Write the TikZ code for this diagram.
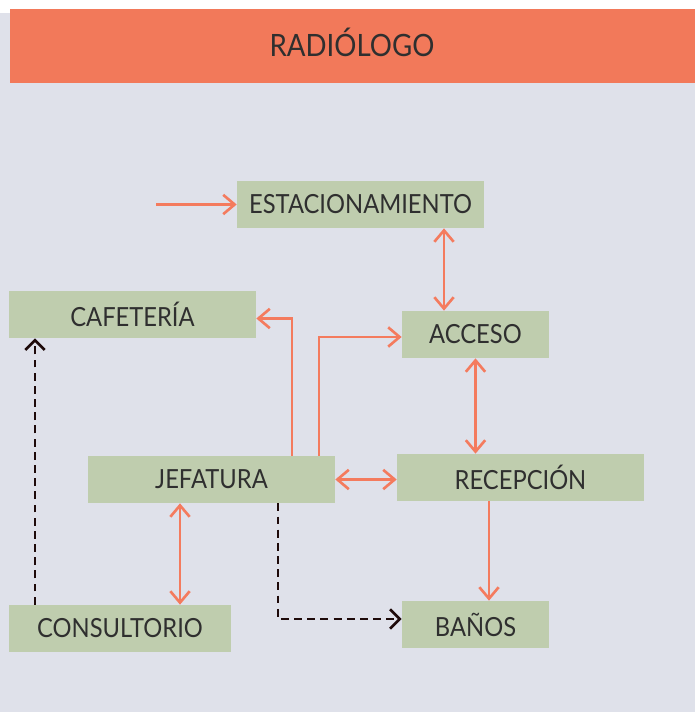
\documentclass[tikz,border=0pt]{standalone}
\usepackage{fontspec}
\setmainfont{Lato}[FakeStretch=0.9]
\usepackage{tikz}
\usetikzlibrary{calc, positioning, arrows.meta}
\usepackage{xcolor}
\definecolor{bggrey}{HTML}{DFE1EA}
\definecolor{headorange}{HTML}{F2795A}
\definecolor{boxgreen}{HTML}{BFCDAE}
\definecolor{linkorange}{HTML}{F47B5E}
\definecolor{textgrey}{HTML}{2F2F2F}
\definecolor{dashdark}{HTML}{1E0A0A}

\begin{document}
\begin{tikzpicture}[
        x=0.02cm, y=-0.02cm,
        room/.style={rectangle, fill=boxgreen, inner sep=0pt, minimum width=4.94cm, minimum height=0.94cm, align=center, text=textgrey, font=\fontsize{15}{17}\selectfont},
        smallroom/.style={room, minimum width=2.94cm},
        arrow/.style={-{Straight Barb[length=6.5pt, width=11pt]}, line width=1.5pt, draw=linkorange},
        both/.style={{Straight Barb[length=6.5pt, width=11pt]}-{Straight Barb[length=6.5pt, width=11pt]}, line width=1.5pt, draw=linkorange},
        dasharrow/.style={-{Straight Barb[length=5.5pt, width=11pt]}, line width=1.5pt, draw=dashdark, dash pattern=on 4.5pt off 3pt}
    ]
    \useasboundingbox (0,0) rectangle (695,712);
    \fill[bggrey] (0,13) rectangle (695,712);
    \fill[headorange] (10,9) rectangle (695,83);
    \node[text=textgrey, font=\fontsize{17.5}{20}\selectfont] (title) at (352,42) {RADIÓLOGO};

    \node[room] (estacionamiento) at (360.5,204.5) {ESTACIONAMIENTO};
    \node[room] (cafeteria) at (132.5,314.5) {CAFETERÍA};
    \node[smallroom] (acceso) at (475.5,334.5) {ACCESO};
    \node[room] (jefatura) at (211.5,479.5) {JEFATURA};
    \node[room] (recepcion) at (520.5,477.5) {RECEPCIÓN};
    \node[room, minimum width=4.44cm] (consultorio) at (120,628.5) {CONSULTORIO};
    \node[smallroom] (banos) at (475.5,624.5) {BAÑOS};

    \coordinate (entrada) at (156,204.5);
    \coordinate (ea) at ($(acceso.north)+(-31.5,0)$);
    \coordinate (rb) at ($(recepcion.south)+(-31.5,0)$);
    \coordinate (jc) at ($(jefatura.south)+(-31.5,0)$);
    \coordinate (jb) at ($(jefatura.south)+(66.5,0)$);
    \coordinate (cc) at ($(consultorio.north)+(-85,0)$);

    \draw[arrow] (entrada) -- (estacionamiento.west);
    \draw[both] (estacionamiento.south -| ea) -- (ea);
    \draw[both] (acceso.south) -- (acceso.south |- recepcion.north);
    \draw[arrow] (rb) -- (rb |- banos.north);
    \draw[both] (jefatura.east) -- (jefatura.east -| recepcion.west);
    \draw[arrow] ($(jefatura.north)+(80.5,0)$) |- ($(cafeteria.east)+(0,4)$);
    \draw[arrow] ($(jefatura.north)+(107.5,0)$) |- ($(acceso.west)+(0,2.5)$);
    \draw[both] (jc) -- (jc |- consultorio.north);
    \draw[dasharrow] (cc) -- (cc |- cafeteria.south);
    \draw[dasharrow] (jb) |- ($(banos.west)+(0,-5.5)$);
\end{tikzpicture}
\end{document}
